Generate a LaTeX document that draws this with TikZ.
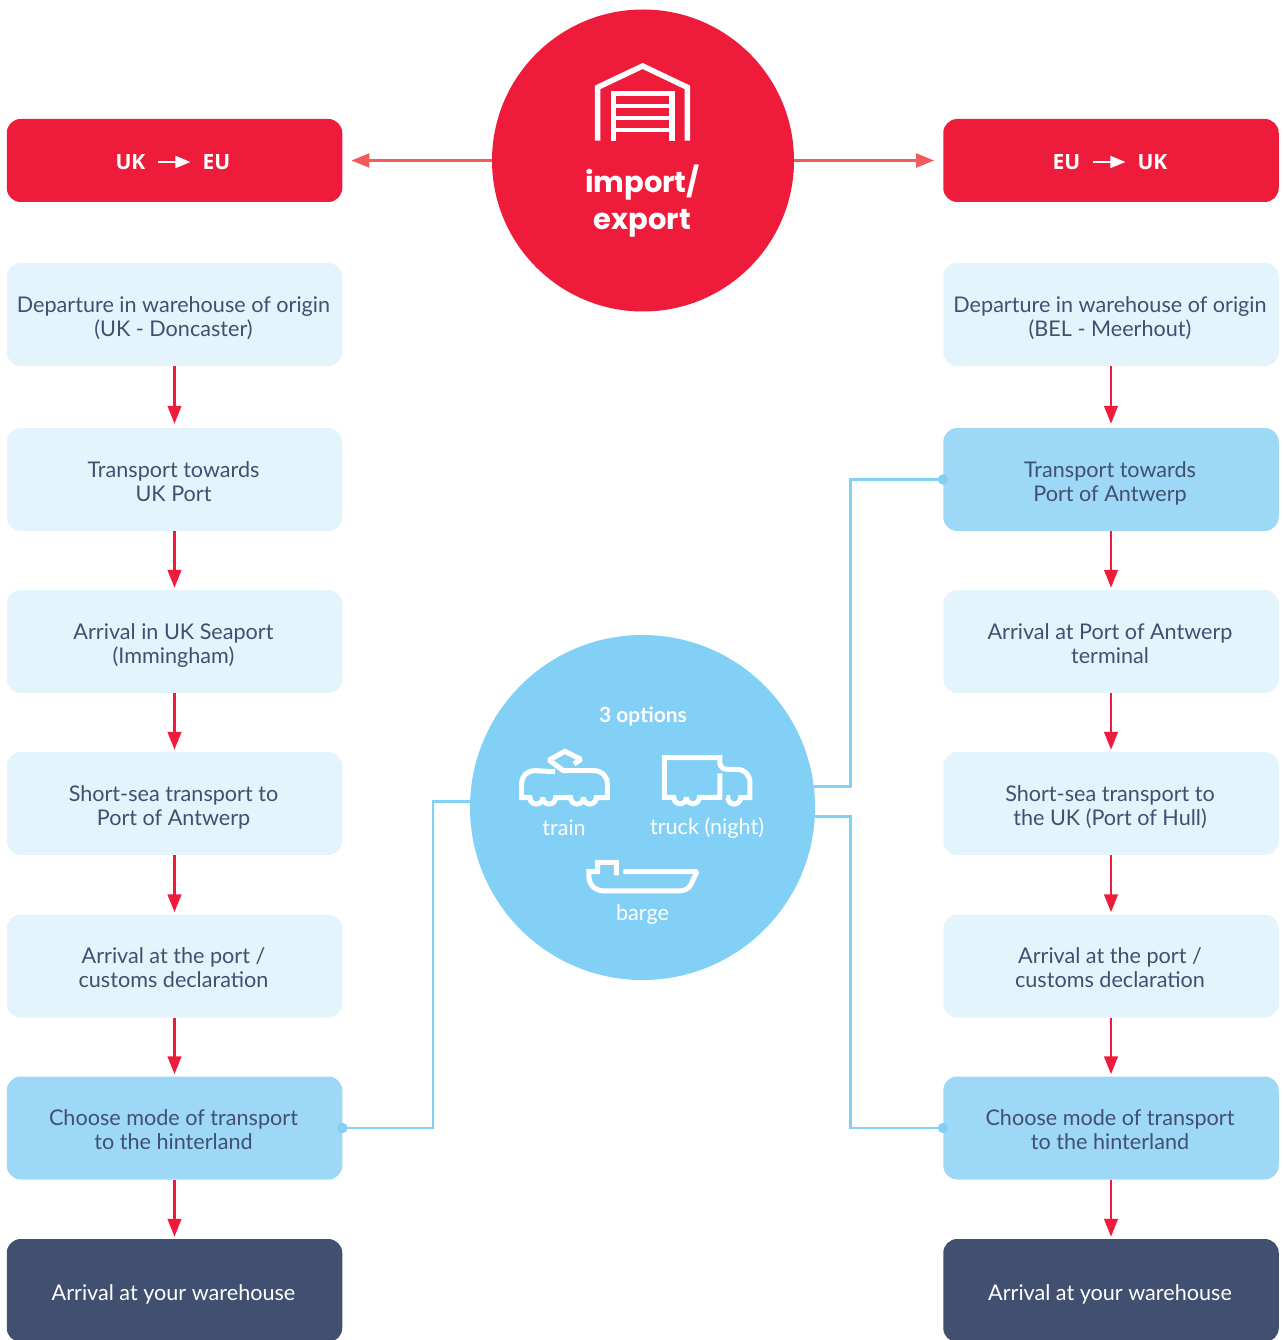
\documentclass[tikz,border=0pt]{standalone}
\usepackage{fontspec}
\setmainfont{Lato}
\newfontfamily\headfont{Open Sans}
\newfontfamily\titlefont{Poppins}
\usetikzlibrary{arrows.meta}
\definecolor{cred}{HTML}{EE1C3A}
\definecolor{clight}{HTML}{E4F4FC}
\definecolor{cmid}{HTML}{9DD8F6}
\definecolor{ccirc}{HTML}{82D0F5}
\definecolor{cdark}{HTML}{415070}
\definecolor{csalmon}{HTML}{F15B5B}
\newcommand\boxtext[1]{\kern-2pt\raisebox{-5.1pt}[\height][\depth]{\begin{tabular}{@{}c@{}}#1\end{tabular}}}
\tikzset{
  x=1pt,y=-1pt,
  basebox/.style={rectangle,rounded corners=14pt,minimum width=335.5pt,minimum height=103pt,inner sep=0pt,text=cdark,
    font=\fontsize{21.6}{24}\selectfont},
  lightbox/.style={basebox,fill=clight},
  midbox/.style={basebox,fill=cmid},
  darkbox/.style={basebox,fill=cdark,text=white},
  headbox/.style={basebox,fill=cred,minimum height=83pt},
  headtext/.style={text=white,inner sep=0pt,font=\headfont\fontsize{21}{24}\selectfont\bfseries},
  flow/.style={draw=cred,line width=2.8pt,-{Triangle[length=18pt,width=13.5pt]},shorten >=2pt},
  side/.style={draw=csalmon,line width=2.4pt,-{Triangle[length=18pt,width=14pt]},shorten >=9pt},
  link/.style={draw=ccirc,line width=2.6pt},
  dotmark/.style={circle,fill=ccirc,inner sep=0pt,minimum size=10.5pt},
  icon/.style={draw=white,line width=5pt,line join=miter,miter limit=1.5},
  optlabel/.style={text=white,inner sep=0pt,font=\fontsize{21.6}{24}\selectfont},
}
\begin{document}
\begin{tikzpicture}
\useasboundingbox (0,0) rectangle (1282,1340);
% circles
\node[circle,fill=cred,minimum size=302pt,inner sep=0pt] (imp) at (643,160.5) {};
\node[circle,fill=ccirc,minimum size=345pt,inner sep=0pt] (opt) at (642.5,807.5) {};
% header boxes
\node[headbox] (hl) at (174.5,160.5) {};
\node[headbox] (hr) at (1111,160.5) {};
\node[headtext,anchor=center] (hl1) at (130.5,162) {UK};
\node[headtext,anchor=center] (hl2) at (216.5,162) {EU};
\node[headtext,anchor=center] (hr1) at (1066.5,162) {EU};
\node[headtext,anchor=center] (hr2) at (1152.5,162) {UK};
\tikzset{minihead/.style={draw=white,line width=1.6pt,-{Triangle[length=15pt,width=12pt]},shorten <=12pt,shorten >=12pt}}
\draw[minihead] (hl1) -- (hl2);
\draw[minihead] (hr1) -- (hr2);
% left column
\node[lightbox] (l1) at (174.5,314.5) {\boxtext{Departure in warehouse of origin\\(UK - Doncaster)}};
\node[lightbox] (l2) at (174.5,479.5) {\boxtext{Transport towards\\UK Port}};
\node[lightbox] (l3) at (174.5,641.5) {\boxtext{Arrival in UK Seaport\\(Immingham)}};
\node[lightbox] (l4) at (174.5,803.5) {\boxtext{Short-sea transport to\\Port of Antwerp}};
\node[lightbox] (l5) at (174.5,966) {\boxtext{Arrival at the port /\\customs declaration}};
\node[midbox] (l6) at (174.5,1128) {\boxtext{Choose mode of transport\\to the hinterland}};
\node[darkbox] (l7) at (174.5,1290.5) {\boxtext{Arrival at your warehouse}};
% right column
\node[lightbox] (r1) at (1111,314.5) {\boxtext{Departure in warehouse of origin\\(BEL - Meerhout)}};
\node[midbox] (r2) at (1111,479.5) {\boxtext{Transport towards\\Port of Antwerp}};
\node[lightbox] (r3) at (1111,641.5) {\boxtext{Arrival at Port of Antwerp\\terminal}};
\node[lightbox] (r4) at (1111,803.5) {\boxtext{Short-sea transport to\\the UK (Port of Hull)}};
\node[lightbox] (r5) at (1111,966) {\boxtext{Arrival at the port /\\customs declaration}};
\node[midbox] (r6) at (1111,1128) {\boxtext{Choose mode of transport\\to the hinterland}};
\node[darkbox] (r7) at (1111,1290.5) {\boxtext{Arrival at your warehouse}};
% flow arrows
\foreach \c in {l,r}{
  \draw[flow,shorten >=4pt] (\c1.south) -- (\c2.north);
  \foreach \a/\b in {2/3,3/4,4/5,5/6,6/7}{
    \draw[flow] (\c\a.south) -- (\c\b.north);
  }
}
% side arrows
\draw[side] (imp.west) -- (hl.east);
\draw[side] (imp.east) -- (hr.west);
% links
\draw[link] (opt.178.3) -| (433,1128) -- (l6.east);
\draw[link] (opt.7) -| (850.5,479.5) -- (r2.west);
\draw[link] (opt.-3) -| (850.5,1128) -- (r6.west);
\node[dotmark] (dl) at (l6.east) {};
\node[dotmark] (dr) at (r2.west) {};
\node[dotmark] (dq) at (r6.west) {};
% warehouse icon
\begin{scope}[x=.3333pt,y=-.3333pt,shift={(560pt,-50pt)}]
\draw[icon,line width=5.5pt,miter limit=4] (113,272) -- (113,112) -- (248,48) -- (382,112) -- (382,272);
\draw[icon,line width=5.5pt] (160,272) -- (160,130) -- (336,130) -- (336,272);
\draw[icon,line width=4.5pt] (160,168) -- (336,168) (160,204) -- (336,204) (160,240) -- (336,240);
\end{scope}
\node[text=white,inner sep=0pt,align=center,font=\titlefont\fontsize{29}{37.5}\selectfont\bfseries] (ttl) at (642.5,201) {import/\\export};
% icons in the option circle
\begin{scope}[x=.3333pt,y=-.3333pt,shift={(480pt,-690pt)}]
% train
\draw[icon] (225,245) -- (165,242) .. controls (140,242) and (125,258) .. (125,282) -- (125,323) -- (150,323)
  arc[start angle=180,end angle=360,radius=6.4pt] arc[start angle=180,end angle=360,radius=6.4pt]
  -- (272,323) arc[start angle=180,end angle=360,radius=6.4pt] arc[start angle=180,end angle=360,radius=6.4pt]
  -- (382,323) -- (382,282) .. controls (382,258) and (365,242) .. (342,242) -- (250,242) -- (207,210) -- (255,184) -- (303,208) -- (282,222);
% truck
\draw[icon] (720,250) -- (720,322) -- (658,322) arc[start angle=0,end angle=-180,radius=6.4pt] arc[start angle=0,end angle=-180,radius=6.4pt] -- (553,322) -- (553,203) -- (720,203) -- (720,222) .. controls (722,232) and (730,238) .. (745,238) -- (770,238) .. controls (795,238) and (810,255) .. (810,280) -- (810,323) -- (782,323) arc[start angle=0,end angle=-180,radius=6.4pt] -- (740,323);
% barge
\draw[icon] (430,545) -- (651,545) -- (632,585) .. controls (626,597) and (612,603) .. (595,603) -- (375,603) .. controls (345,603) and (327,585) .. (327,560) -- (327,545) -- (353,545) -- (353,517) -- (409,517) -- (409,556);
\end{scope}
\node[optlabel,font=\fontsize{21}{24}\selectfont\bfseries] (o0) at (643,716) {3 options};
\node[optlabel] (o1) at (564,827.5) {train};
\node[optlabel] (o2) at (707,828) {truck (night)};
\node[optlabel] (o3) at (642.5,915) {barge};
\end{tikzpicture}
\end{document}
